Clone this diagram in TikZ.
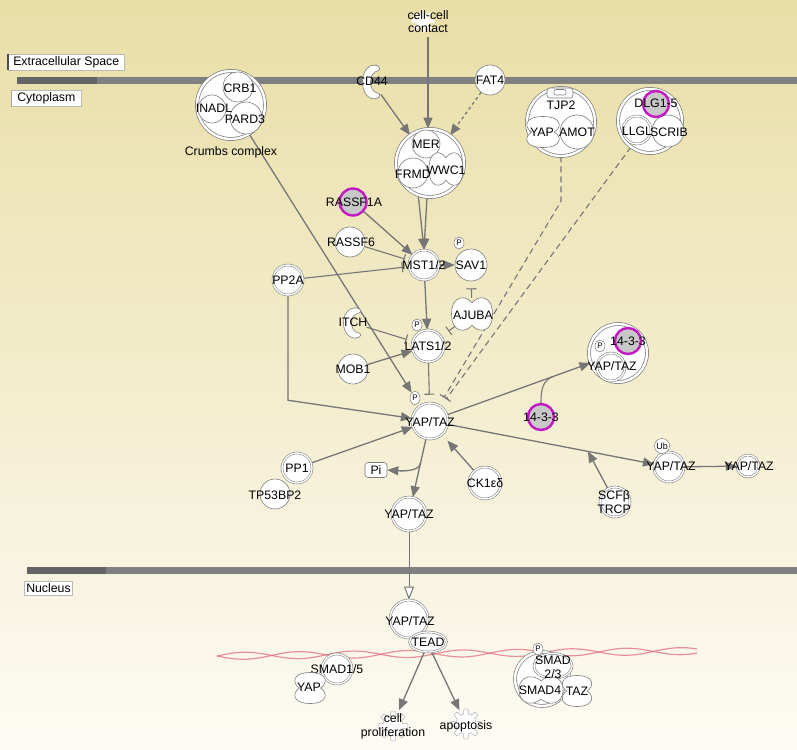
\documentclass[tikz,border=0pt]{standalone}
\usepackage{fontspec}
\setmainfont{Liberation Sans}
\usetikzlibrary{arrows.meta,shapes.geometric,calc}
\pgfdeclarelayer{back}
\pgfdeclarelayer{lines}
\pgfsetlayers{back,lines,main}
\definecolor{conn}{RGB}{118,118,118}
\definecolor{outl}{RGB}{125,125,125}
\definecolor{mag}{RGB}{196,24,196}
\definecolor{gfill}{RGB}{200,200,200}
\definecolor{memb}{RGB}{128,128,128}
\definecolor{membd}{RGB}{100,100,100}
\definecolor{bgtop}{RGB}{233,222,166}
\definecolor{bgmid}{RGB}{243,237,205}
\definecolor{bgbot}{RGB}{253,251,244}
\definecolor{redx}{RGB}{226,110,125}
\newcommand\labf{\fontsize{12.3pt}{13.5pt}\selectfont}
\newcommand\mypeanutH[4]{\draw[shp,shift={(#1,#2)}] (-#3,0) .. controls (-#3,{-1.2*#4}) and ({-0.3*#3},{-1.2*#4}) .. (0,{-0.7*#4}) .. controls ({0.3*#3},{-1.2*#4}) and (#3,{-1.2*#4}) .. (#3,0) .. controls (#3,{1.2*#4}) and ({0.3*#3},{1.2*#4}) .. (0,{0.7*#4}) .. controls ({-0.3*#3},{1.2*#4}) and (-#3,{1.2*#4}) .. cycle;}
\newcommand\mypeanutV[4]{\draw[shp,shift={(#1,#2)}] (0,-#4) .. controls ({-1.2*#3},-#4) and ({-1.2*#3},{-0.3*#4}) .. ({-0.7*#3},0) .. controls ({-1.2*#3},{0.3*#4}) and ({-1.2*#3},#4) .. (0,#4) .. controls ({1.2*#3},#4) and ({1.2*#3},{0.3*#4}) .. ({0.7*#3},0) .. controls ({1.2*#3},{-0.3*#4}) and ({1.2*#3},-#4) .. cycle;}
\newcommand\mycrescent[3]{\draw[shp,shift={(#1,#2)},yscale=#3] (4,-15) .. controls (-14,-17) and (-14,17) .. (4,15) .. controls (8,14) and (9,11) .. (6,10) .. controls (-4,9) and (-4,-9) .. (6,-10) .. controls (9,-11) and (8,-14) .. cycle;}
\newcommand\mygear[4]{\path[#4,shift={(#1,#2)}] plot[variable=\t,domain=0:360,samples=181] ({(#3+2.4*max(-1,min(1,3*cos(8*\t))))*cos(\t)},{(#3+2.4*max(-1,min(1,3*cos(8*\t))))*sin(\t)}) -- cycle;}
\begin{document}
\begin{tikzpicture}[x=1pt,y=-1pt,
  sc/.style={circle,draw=outl,fill=white,line width=0.6pt,inner sep=0pt},
  dc/.style={circle,draw=outl,line width=0.55pt,double=white,double distance=1.4pt,fill=white,inner sep=0pt},
  cplx/.style={circle,draw=outl,line width=0.7pt,double=white,double distance=2.4pt,fill=white,inner sep=0pt},
  mg/.style={circle,draw=mag,line width=2.4pt,fill=gfill,inner sep=0pt},
  inv/.style={circle,inner sep=0pt},
  pn/.style={ellipse,draw=outl,fill=white,line width=0.5pt,inner sep=0pt,minimum width=10pt,minimum height=12pt,font=\fontsize{8pt}{8pt}\selectfont},
  lab/.style={inner sep=0pt,font=\labf,align=center},
  shp/.style={draw=outl,fill=white,line width=0.6pt},
  ln/.style={draw=conn,line width=1.3pt},
  arr/.style={ln,-{Triangle[length=11pt,width=9pt]}},
  inh/.style={draw=conn,line width=1.1pt,-{Bar[width=10pt]}},
  dinh/.style={inh,dash pattern=on 6pt off 4pt},
  boxl/.style={fill=white,draw=gray!55,line width=0.5pt,inner ysep=2.5pt,font=\labf,anchor=west},
]
\useasboundingbox (0,0) rectangle (797,749);
\begin{pgfonlayer}{back}
\shade[top color=bgtop,middle color=bgmid,bottom color=bgbot] (0,0) rectangle (797,749);
\fill[membd] (17,77) rectangle (97,84);
\fill[memb] (97,77) rectangle (797,84);
\fill[membd] (27,567) rectangle (106,574);
\fill[memb] (106,567) rectangle (797,574);
\draw[redx,opacity=0.75,line width=1.2pt] plot[domain=217:697,samples=240] (\x,{656-0.0104*(\x-217)+3.5*sin(3.3*(\x-217))});
\draw[redx,opacity=0.75,line width=1.2pt] plot[domain=217:697,samples=240] (\x,{656-0.0104*(\x-217)-3.5*sin(3.3*(\x-217))});
\end{pgfonlayer}

% compartment labels
\node[boxl,inner xsep=5pt] (ecs) at (8,62) {Extracellular Space};
\draw[gray!60!black,line width=1.2pt] (ecs.north west) -- (ecs.south west);
\node[boxl,inner xsep=6pt] (cyto) at (11,98.5) {Cytoplasm};
\draw[gray!70,line width=1pt] (cyto.north west) -- (cyto.south west);
\node[boxl,inner xsep=2pt] (nucl) at (24,588.5) {Nucleus};

% top inputs
\mygear{423}{21}{9}{fill=white}
\node[lab] (cellcell) at (428,21.5) {cell-cell\\contact};
\coordinate (ccc) at (428,37);
\mycrescent{372}{82}{1.12}
\node[inv,minimum size=30pt] (cd44) at (372,82) {};
\node[lab] (cd44lab) at (372,81) {CD44};
\node[sc,minimum size=30pt] (fat4) at (490,80) {};
\node[lab] (fat4lab) at (fat4) {FAT4};

% Crumbs complex
\node[cplx,minimum size=68pt] (crumbs) at (231,105) {};
\node[sc,minimum size=30pt] (crb1) at (238,87) {};
\node[sc,minimum size=28pt] (inadl) at (212,109) {};
\node[sc,minimum size=32pt] (pard3) at (246,118) {};
\node[lab] (crb1lab) at (240,88) {CRB1};
\node[lab] (inadllab) at (214,108) {INADL};
\node[lab] (pard3lab) at (245,119) {PARD3};
\node[lab] (crumbslab) at (231,152) {Crumbs complex};

% MER complex
\node[cplx,minimum size=68pt] (merc) at (430,163) {};
\node[sc,minimum size=28pt] (mer) at (426,144) {};
\node[sc,minimum size=30pt] (frmd) at (413,173) {};
\mypeanutH{446}{169}{17}{16}
\node[lab] (merlab) at (426,144) {MER};
\node[lab] (frmdlab) at (413,174) {FRMD};
\node[lab] (wwc1lab) at (446,170) {WWC1};

% TJP2 complex
\node[cplx,minimum size=68pt] (tjpc) at (561,122) {};
\draw[shp,rounded corners=3pt] (547,88) rectangle (573,98);
\draw[shp,rounded corners=2pt] (554,89.5) rectangle (566,95);
\mypeanutV{543}{132}{16}{15.5}
\node[sc,minimum size=34pt] (amot) at (577,132) {};
\node[lab] (tjp2lab) at (561,105) {TJP2};
\node[lab] (yaptlab) at (542,132) {YAP};
\node[lab] (amotlab) at (577,132) {AMOT};

% DLG complex
\node[cplx,minimum size=64pt] (dlgc) at (650,121) {};
\node[dc,minimum size=28pt] (llgl) at (637,130) {};
\node[sc,minimum size=32pt] (scrib) at (668,131) {};
\node[mg,minimum size=26pt] (dlg) at (656,104) {};
\node[lab] (dlglab) at (656,103) {DLG1-5};
\node[lab] (llgllab) at (637,131) {LLGL};
\node[lab] (scriblab) at (669,132) {SCRIB};

% Hippo core
\node[mg,minimum size=27pt] (rassf1a) at (353,202) {};
\node[lab] (rassf1alab) at (354,202) {RASSF1A};
\node[sc,minimum size=30pt] (rassf6) at (350,242) {};
\node[lab] (rassf6lab) at (351,242) {RASSF6};
\node[dc,minimum size=30pt] (mst) at (424,265) {};
\node[lab] (mstlab) at (mst) {MST1/2};
\node[sc,minimum size=32pt] (sav1) at (471,265) {};
\node[lab] (sav1lab) at (sav1) {SAV1};
\node[pn] (psav) at (459,243) {P};
\node[dc,minimum size=30pt] (pp2a) at (288,280) {};
\node[lab] (pp2alab) at (pp2a) {PP2A};
\mypeanutH{472}{314}{20.5}{16}
\node[ellipse,inner sep=0pt,minimum width=41pt,minimum height=32pt] (ajuba) at (472,314) {};
\node[lab] (ajubalab) at (473,315) {AJUBA};
\mycrescent{353}{323}{1}
\node[inv,minimum size=28pt] (itch) at (353,323) {};
\node[lab] (itchlab) at (353,322) {ITCH};
\node[dc,minimum size=32pt] (lats) at (428,346) {};
\node[lab] (latslab) at (lats) {LATS1/2};
\node[pn] (plats) at (417,325) {P};
\node[sc,minimum size=30pt] (mob1) at (353,369) {};
\node[lab] (mob1lab) at (mob1) {MOB1};

% YAP/TAZ cytoplasm
\node[dc,minimum size=36pt] (yap) at (430,421) {};
\node[lab] (yaplab) at (430,422) {YAP/TAZ};
\node[pn,minimum height=13pt] (pyap) at (415,398) {P};
\node[dc,minimum size=30pt] (pp1) at (297,468) {};
\node[lab] (pp1lab) at (pp1) {PP1};
\node[sc,minimum size=30pt] (tp53) at (275,494) {};
\node[lab] (tp53lab) at (275,495) {TP53BP2};
\node[rectangle,rounded corners=3pt,draw=outl,fill=white,line width=0.6pt,minimum width=22pt,minimum height=15pt,inner sep=1pt,font=\labf] (pi) at (376,470) {Pi};
\node[dc,minimum size=32pt] (ck1) at (485,483) {};
\node[lab] (ck1lab) at (485,483) {CK1εδ};
\node[dc,minimum size=34pt] (yap2) at (409,514) {};
\node[lab] (yap2lab) at (yap2) {YAP/TAZ};
\node[mg,minimum size=26pt] (f1433) at (541,417) {};
\node[lab] (f1433lab) at (541,417) {14-3-3};
\node[cplx,minimum size=58pt] (c1433) at (618,353) {};
\node[dc,minimum size=28pt] (yapin) at (611,367) {};
\node[pn] (pin) at (600,346) {P};
\node[mg,minimum size=26pt] (in1433) at (628,341) {};
\node[lab] (in1433lab) at (628,341) {14-3-3};
\node[lab] (yapinlab) at (612,366) {YAP/TAZ};
\node[dc,minimum size=30pt] (ubyap) at (669,467) {};
\node[circle,draw=outl,fill=white,line width=0.5pt,inner sep=0pt,minimum size=15pt,font=\fontsize{9pt}{9pt}\selectfont] (ub) at (662,446) {Ub};
\node[lab] (ubyaplab) at (671,466) {YAP/TAZ};
\node[dc,minimum size=22pt] (fyap) at (748,466) {};
\node[lab] (fyaplab) at (749,466) {YAP/TAZ};
\node[dc,minimum size=30pt] (scf) at (615,502) {};
\node[lab,font=\fontsize{12.3pt}{14pt}\selectfont] (scflab) at (614,502) {SCFβ\\TRCP};

% nucleus
\node[dc,minimum size=38pt] (yapn) at (409,619) {};
\node[lab] (yapnlab) at (410,621) {YAP/TAZ};
\node[ellipse,draw=outl,line width=0.55pt,double=white,double distance=1.3pt,fill=white,inner sep=0pt,minimum width=37pt,minimum height=20pt] (tead) at (428,642) {};
\node[lab] (teadlab) at (tead) {TEAD};
\mygear{393}{726}{12.5}{draw=outl!60,fill=white,line width=0.5pt}
\node[inv,minimum size=30pt] (cpg) at (393,724) {};
\node[lab] (cplab) at (393,726.5) {cell\\proliferation};
\mygear{466}{724}{12.5}{draw=outl!60,fill=white,line width=0.5pt}
\node[inv,minimum size=30pt] (apg) at (466,724) {};
\node[lab] (aplab) at (466,726) {apoptosis};
\node[dc,minimum size=30pt] (smad15) at (337,669) {};
\node[lab] (smad15lab) at (337,669) {SMAD1/5};
\mypeanutV{310}{688}{15}{15.5}
\node[lab] (yapnuclab) at (309,687) {YAP};
\node[cplx,minimum size=54pt] (smadc) at (542,679) {};
\node[ellipse,draw=outl,line width=0.55pt,double=white,double distance=1.3pt,fill=white,inner sep=0pt,minimum width=38pt,minimum height=25pt] (smad23) at (553,666) {};
\node[pn] (psmad) at (538,649) {P};
\mypeanutH{541}{690}{22}{13}
\mypeanutV{577}{691}{14.5}{15.5}
\node[lab] (smad23lab) at (553,667.5) {SMAD\\2/3};
\node[lab] (smad4lab) at (540,690) {SMAD4};
\node[lab] (tazlab) at (577,691) {TAZ};

% connectors
\begin{pgfonlayer}{lines}
\draw[arr] (ccc) -- (ccc |- merc.north);
\draw[arr] (cd44) -- (merc);
\draw[arr,dashed] (fat4) -- (merc);
\draw[arr] (merc.250) -- (mst.north);
\draw[arr] (merc.265) -- (mst.north);
\draw[arr] (rassf1a) -- (mst);
\draw[inh,shorten >=5pt] (rassf6) -- (mst);
\draw[inh,shorten >=6pt] (pp2a) -- (mst);
\draw[arr] (mst) -- (sav1);
\draw[arr] (mst) -- (lats);
\draw[inh,shorten >=7pt] (ajuba) -- (sav1);
\draw[inh,shorten >=9pt] (ajuba) -- (lats);
\draw[inh,shorten >=6pt] (itch) -- (lats);
\draw[arr] (mob1) -- (lats);
\draw[inh,shorten >=8pt] (lats) -- (yap);
\draw[arr] (crumbs) -- (pyap);
\draw[dinh,shorten >=9pt] (tjpc.south) -- ++(0,45) -- (yap);
\draw[dinh,shorten >=9pt] (dlgc) -- (yap);
\draw[arr] (pp2a.south) -- ++(0,105) -- (yap);
\draw[arr] (pp1) -- (yap);
\draw[arr,shorten >=8pt] (ck1) -- (yap);
\draw[arr] (yap) -- (yap2);
\draw[arr] ($(yap)!0.45!(yap2)$) .. controls +(-1,9) and +(14,1) .. (pi.east);
\draw[arr] (yap) -- (c1433);
\draw[ln,line width=1.1pt] (f1433.north) .. controls +(0,-14) and +(-10,4) .. ($(yap)!0.654!(c1433)$);
\draw[arr] (yap) -- (ubyap);
\draw[arr] (scf) -- ($(yap)!0.661!(ubyap)$);
\draw[arr] (ubyap) -- (fyap);
\draw[draw=conn,line width=1pt,-{Triangle[length=13pt,width=10pt,fill=white]}] (yap2) -- (yapn);
\draw[arr] (tead.250) -- (cpg);
\draw[arr] (tead.290) -- (apg);
\end{pgfonlayer}
\end{tikzpicture}
\end{document}
